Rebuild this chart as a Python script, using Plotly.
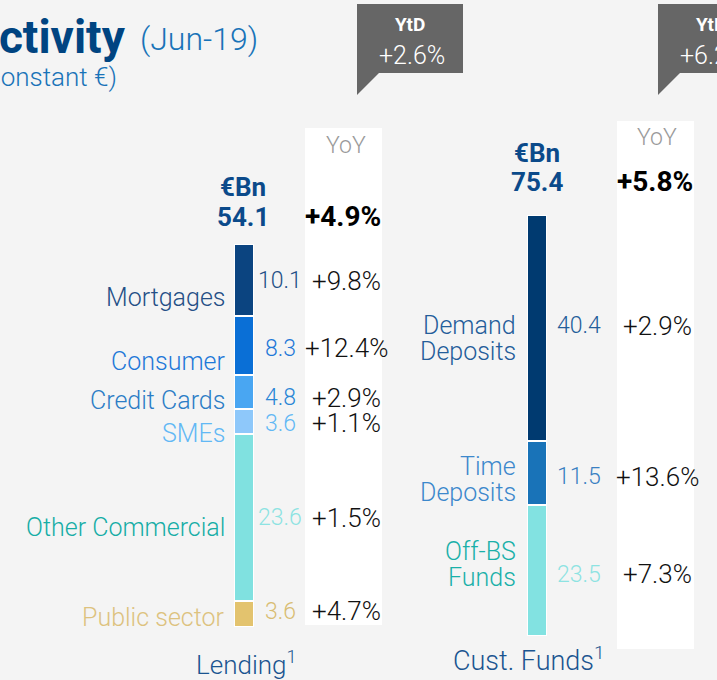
import plotly.graph_objects as go

W, H = 717, 680

# ---------------- data ----------------
lending_cats = ["Public sector", "Other Commercial", "SMEs", "Credit Cards", "Consumer", "Mortgages"]
lending_vals = [3.6, 23.6, 3.6, 4.8, 8.3, 10.1]
lending_yoy = ["+4.7%", "+1.5%", "+1.1%", "+2.9%", "+12.4%", "+9.8%"]
lending_total = "54.1"
lending_total_yoy = "+4.9%"
lending_ytd = "+2.6%"

funds_cats = ["Off-BS|Funds", "Time|Deposits", "Demand|Deposits"]
funds_vals = [23.5, 11.5, 40.4]
funds_yoy = ["+7.3%", "+13.6%", "+2.9%"]
funds_total = "75.4"
funds_total_yoy = "+5.8%"
funds_ytd = "+6.2%"

# ---------------- style ----------------
lending_bar_colors = ["#E3C36E", "#80E1E0", "#8EC8FA", "#49A6F2", "#0A6FD6", "#0B4480"]
lending_lbl_colors = ["#DDC27E", "#16ADA6", "#62B8F5", "#2C7DC6", "#1E78D8", "#244F86"]
lending_val_colors = ["#D9BD72", "#8DE3E2", "#62B8F5", "#2A86D6", "#1E78D8", "#244F86"]
lending_lbl_shift = [-3, -10, -12, -9, -16, -18]
lending_val_shift = [3, 0, -2, -6, -3, -1]

funds_bar_colors = ["#82E2E1", "#1973B8", "#003A70"]
funds_lbl_colors = ["#1AB0A9", "#3C88CC", "#245D9A"]
funds_val_colors = ["#8DE3E2", "#3A80C2", "#245D9A"]
funds_lbl_shift = [6, -7, -11]
funds_val_shift = [-4, -4, 2]

FONT = "Roboto, Lato, sans-serif"
BG = "#F4F4F4"
NAVY = "#0B4A8A"


def px(x):
    return x / W


def py(y):
    return 1 - y / H


fig = go.Figure()

for c, v, col in zip(lending_cats, lending_vals, lending_bar_colors):
    fig.add_trace(go.Bar(x=["Lending"], y=[v], name=c, marker_color=col,
                         marker_line=dict(color="white", width=2), width=1,
                         xaxis="x", yaxis="y", showlegend=False, hoverinfo="skip"))
for c, v, col in zip(funds_cats, funds_vals, funds_bar_colors):
    fig.add_trace(go.Bar(x=["Funds"], y=[v], name=c, marker_color=col,
                         marker_line=dict(color="white", width=2), width=1,
                         xaxis="x2", yaxis="y2", showlegend=False, hoverinfo="skip"))

ann = []


def A(text, x, y, size, color, xanchor="center", yref="paper", yshift=0, weight=300, xref="paper"):
    ann.append(dict(text=text, x=x, y=y, xref=xref, yref=yref, xanchor=xanchor, yanchor="middle",
                    yshift=yshift, showarrow=False,
                    font=dict(family=FONT, size=size, color=color, weight=weight)))


# lending labels
cum = 0
for c, v, yoy, lc, vc, ls, vs in zip(lending_cats, lending_vals, lending_yoy, lending_lbl_colors,
                                      lending_val_colors, lending_lbl_shift, lending_val_shift):
    mid = cum + v / 2
    cum += v
    A(c, px(227), mid, 25, lc, xanchor="right", yref="y", yshift=ls)
    A(f"{v:.1f}", px(280), mid, 23, vc, yref="y", yshift=vs)
    A(yoy, px(346), mid, 26, "#111111", yref="y", yshift=vs)

cum = 0
for c, v, yoy, lc, vc, ls, vs in zip(funds_cats, funds_vals, funds_yoy, funds_lbl_colors,
                                      funds_val_colors, funds_lbl_shift, funds_val_shift):
    mid = cum + v / 2
    cum += v
    lines = c.split("|")
    A(lines[0], px(518), mid, 25, lc, xanchor="right", yref="y2", yshift=ls + 13)
    A(lines[1], px(518), mid, 25, lc, xanchor="right", yref="y2", yshift=ls - 13)
    A(f"{v:.1f}", px(579), mid, 23, vc, yref="y2", yshift=vs)
    A(yoy, px(657), mid, 26, "#111111", yref="y2", yshift=vs)

# headers
A("YoY", px(346), py(145), 23, "#9A9A9A")
A("<b>€Bn</b>", px(243), py(187), 26, NAVY, weight=700)
A("<b>" + lending_total + "</b>", px(243), py(217), 26, NAVY, weight=700)
A("<b>" + lending_total_yoy + "</b>", px(343), py(216), 28, "#000000", weight=700)

A("YoY", px(657), py(138), 23, "#9A9A9A")
A("<b>€Bn</b>", px(537), py(153), 26, NAVY, weight=700)
A("<b>" + funds_total + "</b>", px(537), py(182), 26, NAVY, weight=700)
A("<b>" + funds_total_yoy + "</b>", px(655), py(182), 28, "#000000", weight=700)

A("Lending<sup>1</sup>", px(246), py(663), 26, "#1A5490")
A("Cust. Funds<sup>1</sup>", px(529), py(659), 27, "#1A5490")

# title
A("<b>Activity</b>", px(128), py(37), 46, "#004481", xanchor="right", weight=700)
A("(Jun-19)", px(138), py(39), 32, "#1973B8", xanchor="left")
A("(constant €)", px(119), py(77), 26, "#1973B8", xanchor="right")

# callouts
A("<b>YtD</b>", px(410), py(25), 19, "white", weight=700)
A(lending_ytd, px(412), py(55), 25, "white")
A("<b>YtD</b>", px(711), py(25), 19, "white", weight=700)
A(funds_ytd, px(713), py(55), 25, "white")

shapes = []
# white YoY columns
shapes.append(dict(type="rect", xref="paper", yref="paper", x0=px(305), x1=px(382), y0=py(625), y1=py(128),
                   fillcolor="white", line_width=0, layer="below"))
shapes.append(dict(type="rect", xref="paper", yref="paper", x0=px(617), x1=px(694), y0=py(649), y1=py(121),
                   fillcolor="white", line_width=0, layer="below"))


def callout(x0):
    pts = [(x0, 4), (x0 + 106, 4), (x0 + 106, 73), (x0 + 22, 73), (x0, 95)]
    path = "M " + " L ".join(f"{px(a):.5f},{py(b):.5f}" for a, b in pts) + " Z"
    return dict(type="path", xref="paper", yref="paper", path=path, fillcolor="#666666",
                line_width=0, layer="below")


shapes.append(callout(357))
shapes.append(callout(658))

fig.update_layout(
    width=W, height=H, margin=dict(l=0, r=0, t=0, b=0),
    paper_bgcolor=BG, plot_bgcolor="rgba(0,0,0,0)",
    barmode="stack", showlegend=False,
    annotations=ann, shapes=shapes,
    xaxis=dict(domain=[px(234), px(254)], range=[-0.5, 0.5], visible=False, type="category"),
    yaxis=dict(domain=[py(627), py(244)], range=[0, sum(lending_vals)], visible=False),
    xaxis2=dict(domain=[px(527), px(547)], range=[-0.5, 0.5], visible=False, type="category", anchor="y2"),
    yaxis2=dict(domain=[py(636), py(215)], range=[0, sum(funds_vals)], visible=False, anchor="x2"),
)

fig.write_html("out.html", config={"displayModeBar": False},
               post_script="document.body.style.margin='0';document.body.style.overflow='hidden';"
                           "document.body.style.background='" + BG + "';")
